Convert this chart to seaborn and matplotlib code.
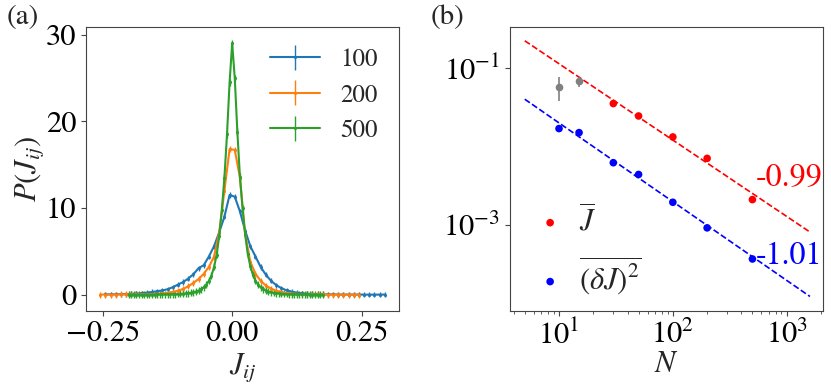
import numpy as np
import matplotlib
matplotlib.use("Agg")
import matplotlib.pyplot as plt
import seaborn as sns

# panel (a): histograms of couplings J_ij for three system sizes
sizes = ["100", "200", "500"]

j_100 = np.linspace(-0.245, 0.295, 55)
p_100 = [0.02, 0.03, 0.03, 0.05, 0.06, 0.08, 0.12, 0.16, 0.22, 0.30,
         0.40, 0.48, 0.62, 0.85, 1.15, 1.45, 1.85, 2.35, 3.05, 3.4,
         4.4, 5.6, 7.2, 9.0, 11.5,
         11.3, 9.6, 7.4, 5.6, 4.4, 3.2, 2.3, 1.6, 1.1, 0.75,
         0.5, 0.35, 0.22, 0.15, 0.10, 0.07, 0.05, 0.03, 0.02, 0.02,
         0.01, 0.01, 0.01, 0.0, 0.01, 0.0, 0.0, 0.0, 0.0, 0.01]

j_200 = np.linspace(-0.255, 0.245, 51)
p_200 = [0.01, 0.01, 0.01, 0.01, 0.02, 0.02, 0.02, 0.03, 0.04, 0.05,
         0.07, 0.10, 0.14, 0.20, 0.30, 0.45, 0.65, 0.95, 1.35, 1.8,
         2.4, 3.2, 4.4, 7.2, 12.0, 16.8,
         16.7, 13.5, 7.0, 3.8, 2.4, 1.6, 1.05, 0.7, 0.45, 0.3,
         0.2, 0.13, 0.09, 0.06, 0.04, 0.03, 0.02, 0.02, 0.01, 0.01,
         0.01, 0.0, 0.0, 0.0, 0.01]

j_500 = np.linspace(-0.2, 0.175, 76)
p_500 = [0.002, 0.003, 0.003, 0.004, 0.005, 0.006, 0.008, 0.01, 0.01, 0.012,
         0.015, 0.02, 0.02, 0.025, 0.03, 0.035, 0.04, 0.05, 0.06, 0.07,
         0.09, 0.11, 0.14, 0.17, 0.22, 0.28, 0.36, 0.47, 0.62, 0.85,
         1.15, 1.6, 2.2, 3.2, 4.6, 6.8, 9.8, 13.5, 18.5, 24.5,
         29.0,
         25.0, 18.8, 13.6, 10.0, 7.0, 4.7, 3.3, 2.3, 1.6, 1.15,
         0.85, 0.62, 0.47, 0.36, 0.28, 0.22, 0.17, 0.14, 0.11, 0.09,
         0.07, 0.06, 0.05, 0.04, 0.035, 0.03, 0.025, 0.02, 0.02, 0.015,
         0.01, 0.01, 0.01, 0.005, 0.005]

p_err = [0.3, 0.35, 0.4]

# panel (b): scaling with N
n_vals = [10, 15, 30, 50, 100, 200, 500]
j_mean = [0.0577, 0.0689, 0.0354, 0.0246, 0.0133, 0.0071, 0.00212]
j_mean_lo = [0.0385, 0.0567, 0.0330, 0.0235, 0.0128, 0.0068, 0.00205]
j_mean_hi = [0.0760, 0.0760, 0.0380, 0.0257, 0.0138, 0.0074, 0.00219]
j_var = [0.0170, 0.0151, 0.00625, 0.00443, 0.00196, 0.000926, 0.000372]

fit_n = [5, 1600]
fit_mean = [0.223, 8.2e-4]
fit_var = [0.0402, 1.24e-4]
slopes = ["-0.99", "-1.01"]

sns.set_style("ticks")
plt.rcParams["font.family"] = ["STIXGeneral", "DejaVu Serif"]
plt.rcParams["mathtext.fontset"] = "stix"
plt.rcParams["axes.edgecolor"] = "#444444"
plt.rcParams["xtick.color"] = "#444444"
plt.rcParams["ytick.color"] = "#444444"
plt.rcParams["xtick.labelcolor"] = "black"
plt.rcParams["ytick.labelcolor"] = "black"

fig = plt.figure(figsize=(8.31, 3.87), dpi=100)
ax1 = fig.add_axes([0.1035, 0.1964, 0.3767, 0.7339])
ax2 = fig.add_axes([0.6137, 0.1964, 0.3767, 0.7339])

colors = sns.color_palette("tab10", 3)
for xs, ys, lab, col, err in zip([j_100, j_200, j_500], [p_100, p_200, p_500],
                                 sizes, colors, p_err):
    ax1.errorbar(xs, ys, yerr=err, color=col, lw=1.5, marker=".", ms=2.5,
                 elinewidth=1.0, label=lab)

ax1.set_xticks([-0.25, 0.0, 0.25])
ax1.set_yticks([0, 10, 20, 30])
ax1.tick_params(labelsize=22, length=3.5, width=0.8)
ax1.set_xlabel(r"$J_{ij}$", fontsize=22, labelpad=2)
ax1.set_ylabel(r"$P(J_{ij})$", fontsize=22, labelpad=0)
ax1.legend(loc="upper right", frameon=False, fontsize=18, handlelength=2.0,
           handletextpad=0.8, labelspacing=0.45, borderaxespad=0.45,
           borderpad=0.4)

# panel (b)
ax2.set_xscale("log")
ax2.set_yscale("log")
sns.lineplot(x=fit_n, y=fit_mean, ax=ax2, color="red", lw=1.2, linestyle="--")
sns.lineplot(x=fit_n, y=fit_var, ax=ax2, color="blue", lw=1.2, linestyle="--")

lo = np.array(j_mean) - np.array(j_mean_lo)
hi = np.array(j_mean_hi) - np.array(j_mean)
ax2.errorbar(n_vals[:2], j_mean[:2], yerr=[lo[:2], hi[:2]], fmt="o",
             color="gray", ms=4.5, elinewidth=1.2)
ax2.errorbar(n_vals[2:], j_mean[2:], yerr=[lo[2:], hi[2:]], fmt="none",
             ecolor="red", elinewidth=1.0)
sns.scatterplot(x=n_vals[2:], y=j_mean[2:], ax=ax2, color="red", s=30,
                edgecolor="none", label=r"$\overline{J}$")
sns.scatterplot(x=n_vals, y=j_var, ax=ax2, color="blue", s=30,
                edgecolor="none", label=r"$\overline{(\delta J)^2}$")

ax2.text(540, 0.00405, slopes[0], color="red", fontsize=23, ha="left", va="center")
ax2.text(540, 0.00040, slopes[1], color="blue", fontsize=23, ha="left", va="center")

ax2.set_xlim(3.71, 2085)
ax2.set_ylim(8.1e-5, 0.334)
ax2.set_yticks([1e-1, 1e-3])
ax2.tick_params(labelsize=22, length=3.5, width=0.8)
ax2.tick_params(which="minor", length=2, width=0.6)
ax2.yaxis.set_minor_locator(matplotlib.ticker.NullLocator())
ax2.set_xlabel(r"$N$", fontsize=22, labelpad=0)
ax2.legend(loc="lower left", bbox_to_anchor=(0.016, 0.005), frameon=False,
           fontsize=22, handlelength=1.5, handletextpad=0.2, borderaxespad=0,
           borderpad=0.4, labelspacing=0.57)

fig.text(0.008, 0.956, "(a)", fontsize=21, va="center", ha="left")
fig.text(0.518, 0.956, "(b)", fontsize=21, va="center", ha="left")

fig.savefig("out.png", dpi=100)
